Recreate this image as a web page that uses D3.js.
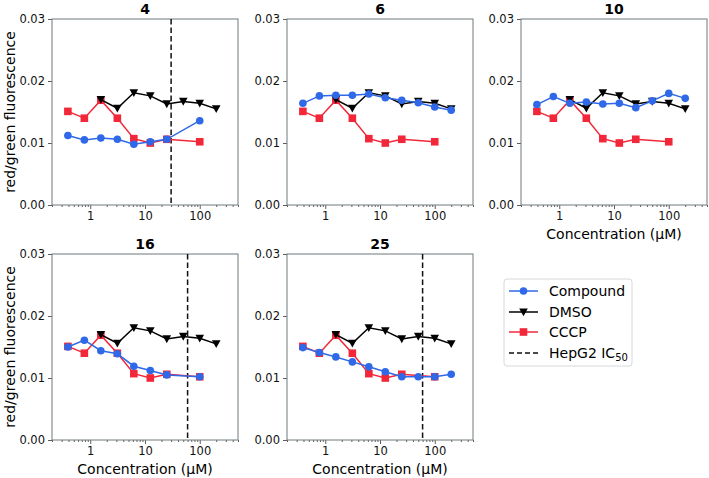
<!DOCTYPE html>
<html><head><meta charset="utf-8">
<script src="https://cdn.jsdelivr.net/npm/d3@7"></script>
<style>body{margin:0;background:#fff}svg{display:block}text{font-family:"DejaVu Sans",sans-serif}</style>
</head><body>
<script>
const conc = [0.39, 0.78, 1.56, 3.125, 6.25, 12.5, 25, 50, 100, 200];
const panels = ["4", "6", "10", "16", "25"];
const ic50 = {"4": 30, "16": 60, "25": 60};
// Compound series: [concentration, value]
const compound4  = [[0.39,0.0112],[0.78,0.0105],[1.56,0.0108],[3.125,0.0106],[6.25,0.0098],[12.5,0.0102],[25,0.0106],[100,0.0136]];
const compound6  = [[0.39,0.0164],[0.78,0.0176],[1.56,0.0177],[3.125,0.0177],[6.25,0.0179],[12.5,0.0173],[25,0.0169],[50,0.0165],[100,0.0158],[200,0.0153]];
const compound10 = [[0.39,0.0162],[0.78,0.0175],[1.56,0.0164],[3.125,0.0166],[6.25,0.0163],[12.5,0.0164],[25,0.0157],[50,0.0168],[100,0.0180],[200,0.0172]];
const compound16 = [[0.39,0.0150],[0.78,0.0161],[1.56,0.0144],[3.125,0.0139],[6.25,0.0119],[12.5,0.0112],[25,0.0105],[100,0.0102]];
const compound25 = [[0.39,0.0149],[0.78,0.0141],[1.56,0.0134],[3.125,0.0126],[6.25,0.0118],[12.5,0.0110],[25,0.0102],[50,0.0102],[100,0.0102],[200,0.0106]];
const dmso = [[1.56,0.0170],[3.125,0.0156],[6.25,0.0181],[12.5,0.0176],[25,0.0163],[50,0.0167],[100,0.0164],[200,0.0155]];
const cccp = [[0.39,0.0151],[0.78,0.0140],[1.56,0.0169],[3.125,0.0140],[6.25,0.0107],[12.5,0.0100],[25,0.0106],[100,0.0102]];
const compoundData = {"4": compound4, "6": compound6, "10": compound10, "16": compound16, "25": compound25};
const yTicks = [0, 0.01, 0.02, 0.03];
const xTicks = [1, 10, 100];
const legendLabels = ["Compound", "DMSO", "CCCP", "HepG2 IC"];

const W = 709, H = 478;
const size = 186;
const lefts = [52, 287, 521], tops = [19, 254];
const BLUE = "#2f69e8", RED = "#f2283a", BLACK = "#000", SPINE = "#6f7a7f";

const svg = d3.select("body").append("svg").attr("width", W).attr("height", H);
const x = d3.scaleLog().domain([0.2, 500]).range([0, size]);
const y = d3.scaleLinear().domain([0, 0.03]).range([size, 0]);
const minorTicks = [];
for (let e = -1; e <= 2; e++) for (let m = 2; m <= 9; m++) { const v = m * Math.pow(10, e); if (v >= 0.2 && v <= 500) minorTicks.push(v); }

const line = d3.line().x(d => x(d[0])).y(d => y(d[1]));

panels.forEach((name, i) => {
  const col = i % 3, row = Math.floor(i / 3);
  const g = svg.append("g").attr("transform", `translate(${lefts[col]},${tops[row]})`);

  const ya = g.append("g").call(d3.axisLeft(y).tickValues(yTicks).tickFormat(d3.format(".2f")).tickSize(4).tickPadding(3));
  const xa = g.append("g").attr("transform", `translate(0,${size})`)
    .call(d3.axisBottom(x).tickValues(xTicks).tickFormat(d3.format("d")).tickSize(4).tickPadding(3));
  const xm = g.append("g").attr("transform", `translate(0,${size})`)
    .call(d3.axisBottom(x).tickValues(minorTicks).tickFormat("").tickSize(2));
  [ya, xa, xm].forEach(a => {
    a.select(".domain").remove();
    a.selectAll("line").attr("stroke", "#333").attr("stroke-width", 0.8);
    a.selectAll("text").attr("font-size", 11.5).attr("fill", "#111").attr("font-family", "DejaVu Sans");
  });

  g.append("rect").attr("width", size).attr("height", size).attr("fill", "none").attr("stroke", SPINE).attr("stroke-width", 1);

  g.append("text").attr("x", size / 2).attr("y", -5).attr("text-anchor", "middle")
    .attr("font-size", 14).attr("font-weight", "bold").text(name);

  if (ic50[name]) {
    g.append("line").attr("x1", x(ic50[name])).attr("x2", x(ic50[name])).attr("y1", 0).attr("y2", size)
      .attr("stroke", "#111").attr("stroke-width", 1.5).attr("stroke-dasharray", "5.5,3");
  }

  const comp = compoundData[name];
  g.append("path").datum(cccp).attr("d", line).attr("fill", "none").attr("stroke", RED).attr("stroke-width", 1.5);
  g.selectAll(".sq").data(cccp).join("rect").attr("x", d => x(d[0]) - 3.8).attr("y", d => y(d[1]) - 3.8)
    .attr("width", 7.6).attr("height", 7.6).attr("fill", RED);
  g.append("path").datum(dmso).attr("d", line).attr("fill", "none").attr("stroke", BLACK).attr("stroke-width", 1.5);
  g.selectAll(".tri").data(dmso).join("path")
    .attr("d", d => { const cx = x(d[0]), cy = y(d[1]); return `M${cx-4.3},${cy-3.6}L${cx+4.3},${cy-3.6}L${cx},${cy+4.2}Z`; })
    .attr("fill", BLACK);
  g.append("path").datum(comp).attr("d", line).attr("fill", "none").attr("stroke", BLUE).attr("stroke-width", 1.5);
  g.selectAll(".dot").data(comp).join("circle").attr("cx", d => x(d[0])).attr("cy", d => y(d[1])).attr("r", 3.8).attr("fill", BLUE);

  if (col === 0) {
    g.append("text").attr("transform", `translate(${-37},${size / 2}) rotate(-90)`).attr("text-anchor", "middle")
      .attr("font-size", 14).text("red/green fluorescence");
  }
  if (row === 1 || col === 2) {
    g.append("text").attr("x", size / 2).attr("y", size + 34).attr("text-anchor", "middle")
      .attr("font-size", 14).text("Concentration (μM)");
  }
});

const lg = svg.append("g").attr("transform", "translate(504,279)");
lg.append("rect").attr("width", 128).attr("height", 87).attr("rx", 3).attr("fill", "#fff").attr("stroke", "#d6d9da").attr("stroke-width", 1);
const rowsY = [12, 33, 53, 74];
const legColors = [BLUE, BLACK, RED, "#111"];
legendLabels.forEach((lab, i) => {
  const ry = rowsY[i];
  const l = lg.append("line").attr("x1", 5).attr("x2", 34).attr("y1", ry).attr("y2", ry).attr("stroke", legColors[i]).attr("stroke-width", 1.5);
  if (i === 3) l.attr("stroke-dasharray", "5,3");
  const cx = 19.5;
  if (i === 0) lg.append("circle").attr("cx", cx).attr("cy", ry).attr("r", 3.8).attr("fill", BLUE);
  if (i === 1) lg.append("path").attr("d", `M${cx-4.3},${ry-3.6}L${cx+4.3},${ry-3.6}L${cx},${ry+4.2}Z`).attr("fill", BLACK);
  if (i === 2) lg.append("rect").attr("x", cx - 3.8).attr("y", ry - 3.8).attr("width", 7.6).attr("height", 7.6).attr("fill", RED);
  const t = lg.append("text").attr("x", 45).attr("y", ry + 5).attr("font-size", 14).text(lab);
  if (i === 3) t.append("tspan").attr("font-size", 10).attr("dy", 3).text("50");
});
</script>
</body></html>
